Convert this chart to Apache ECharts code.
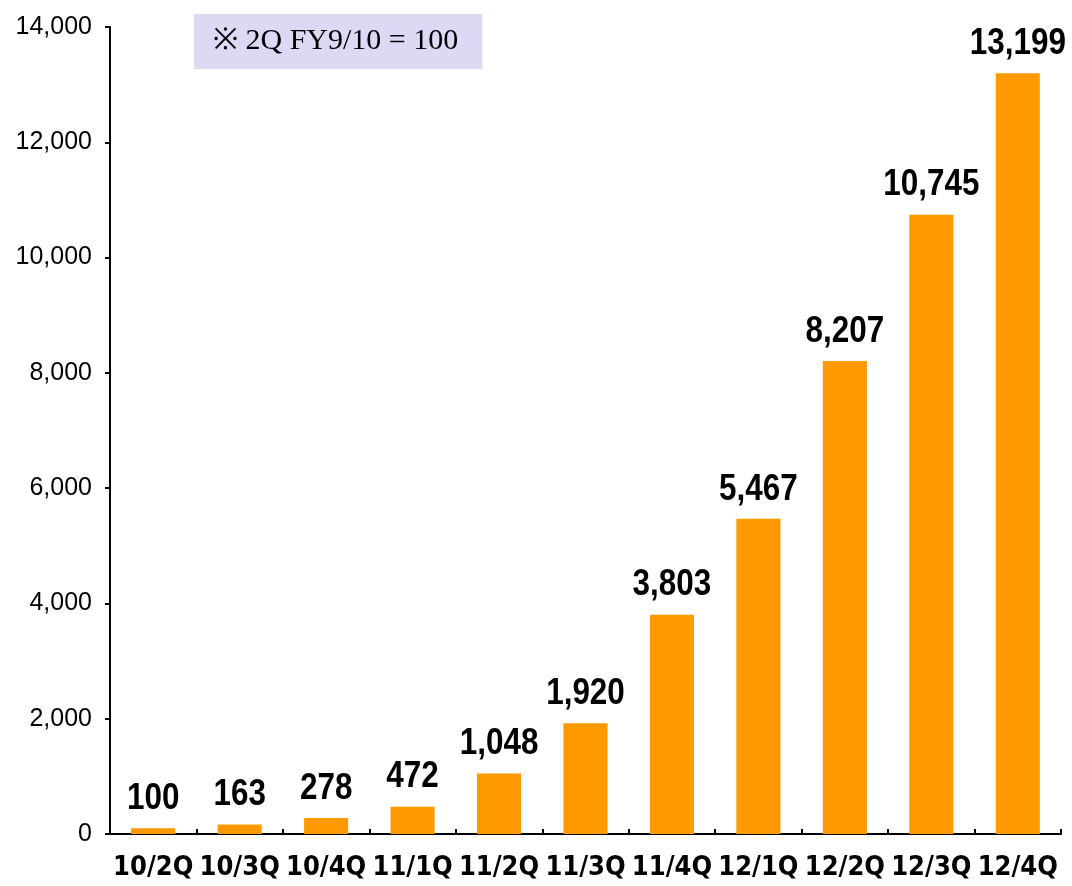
<!DOCTYPE html>
<html>
<head>
<meta charset="utf-8">
<script src="https://cdn.jsdelivr.net/npm/echarts@6/dist/echarts.min.js"></script>
<style>
  html, body { margin: 0; padding: 0; background: #ffffff; }
  #chart { width: 1072px; height: 886px; }
</style>
</head>
<body>
<div id="chart"></div>
<script>
// Quarterly index, 2Q FY9/10 = 100
const categories = ['10/2Q', '10/3Q', '10/4Q', '11/1Q', '11/2Q', '11/3Q', '11/4Q', '12/1Q', '12/2Q', '12/3Q', '12/4Q'];
const indexValues = [100, 163, 278, 472, 1048, 1920, 3803, 5467, 8207, 10745, 13199];
const noteText = '※ 2Q FY9/10 = 100';
const yMin = 0;
const yMax = 14000;
const yStep = 2000;

// condensed bold face for the quarter names
const narrowFont = '"DejaVu Sans", sans-serif';
const narrowWeight = 'bold condensed';

const fmt = v => Number(v).toLocaleString('en-US');

const chart = echarts.init(document.getElementById('chart'), null, { renderer: 'canvas' });

// value labels: narrow bold numbers set just above each bar top
function renderValueLabel(params, api) {
  const top = api.coord([api.value(0), api.value(1)]);
  return {
    type: 'text',
    x: top[0],
    y: top[1] - 11,
    scaleX: 0.85,
    style: {
      text: fmt(api.value(1)),
      x: 0,
      y: 0,
      align: 'center',
      verticalAlign: 'bottom',
      font: 'bold 37px "Liberation Sans", Arial, sans-serif',
      fill: '#000000'
    },
    silent: true
  };
}

chart.setOption({
  animation: false,
  backgroundColor: '#ffffff',
  title: {
    text: noteText,
    left: 194,
    top: 14,
    padding: [10, 24, 10, 19],
    backgroundColor: '#dcd9f5',
    textStyle: {
      fontFamily: '"Liberation Serif", "Times New Roman", serif',
      fontSize: 30,
      fontWeight: 'normal',
      color: '#000000',
      lineHeight: 35
    }
  },
  grid: { left: 110, right: 11, top: 27, bottom: 52, containLabel: false },
  xAxis: {
    type: 'category',
    data: categories,
    boundaryGap: true,
    axisLine: { show: true, lineStyle: { color: '#000000', width: 2 } },
    axisTick: { show: true, inside: true, length: 5, lineStyle: { color: '#000000', width: 2 } },
    axisLabel: {
      interval: 0,
      margin: 20,
      fontFamily: narrowFont,
      fontWeight: narrowWeight,
      fontSize: 27,
      color: '#000000'
    },
    splitLine: { show: false }
  },
  yAxis: {
    type: 'value',
    min: yMin,
    max: yMax,
    interval: yStep,
    axisLine: { show: true, lineStyle: { color: '#000000', width: 2 } },
    axisTick: { show: true, inside: false, length: 5, lineStyle: { color: '#000000', width: 2 } },
    axisLabel: {
      margin: 18,
      fontFamily: '"Liberation Sans", Arial, sans-serif',
      fontSize: 25,
      color: '#000000',
      formatter: fmt
    },
    splitLine: { show: false }
  },
  series: [
    {
      type: 'bar',
      data: indexValues,
      barWidth: '51%',
      itemStyle: { color: '#ff9900' },
      silent: true
    },
    {
      type: 'custom',
      data: indexValues.map((v, i) => [i, v]),
      encode: { x: 0, y: 1 },
      renderItem: renderValueLabel,
      clip: false,
      z: 5,
      silent: true
    }
  ]
});
</script>
</body>
</html>
